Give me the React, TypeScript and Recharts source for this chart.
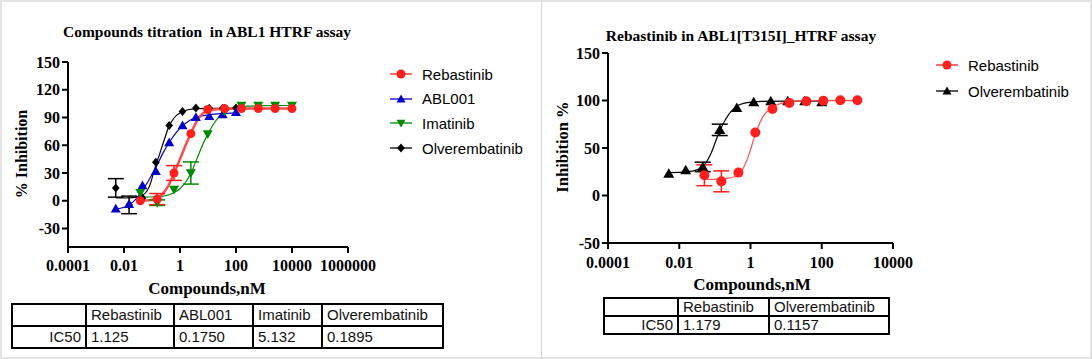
import { ComposedChart, Line, Scatter, XAxis, YAxis, ErrorBar } from "recharts";

const SERIF = '"Liberation Serif", "Times New Roman", serif';
const SANS = '"Liberation Sans", Arial, sans-serif';

// ---------- left panel: ABL1 HTRF ----------
const doses3x = [0.00508, 0.0152, 0.0457, 0.137, 0.412, 1.23, 3.7, 11.1, 33.3, 100];
const doses4x = [0.0381, 0.153, 0.61, 2.44, 9.77, 39.1, 156, 625, 2500, 10000];

const rebastinibA = [0, 1.8, 30, 72.5, 98.6, 99.6, 99.6, 99.6, 99.6, 99.6];
const rebastinibAErr = [0, 6, 8, 0, 0, 0, 0, 0, 0, 0];
const abl001A = [-8.6, -3.9, 16.4, 31.8, 62.9, 81.4, 90.4, 91.4, 93.2, 95.7];
const imatinibA = [8.6, -2.1, 12.1, 30, 72.1, 96.8, 102.9, 102.9, 102.9, 102.9];
const imatinibAErr = [0, 3, 0, 12, 0, 0, 0, 0, 0, 0];
const olverA = [13.9, -4.5, 2.9, 41.5, 81.4, 96.4, 100.4, 100, 100, 100.4];
const olverAErr = [10, 9.5, 0, 0, 0, 0, 0, 0, 0, 0];

// fitted curves
const rebFitX = [0.038, 0.1, 0.148, 0.251, 0.398, 0.617, 1, 1.585, 2.455, 3.98, 6.31, 10, 20, 100, 10000];
const rebFitY = [0.2, 0.8, 2, 8, 17, 30, 45, 60, 73, 86, 94, 97.5, 99, 99.6, 99.6];
const ablFitX = [0.0051, 0.01, 0.0152, 0.0251, 0.0457, 0.0794, 0.138, 0.251, 0.41, 0.794, 1.23, 2.0, 3.72, 11.2, 33.1, 100];
const ablFitY = [-9, -7, -4.5, 1, 11, 23, 36, 52, 63, 75, 81, 86, 90, 93, 94.3, 95];
const imaFitX = [0.038, 0.151, 0.398, 0.617, 1, 1.585, 2.455, 3.98, 6.31, 9.77, 15.85, 25.1, 38.9, 79.4, 251, 1000, 10000];
const imaFitY = [4, 4.3, 6.5, 9, 13, 20, 30, 45, 60, 72, 83, 91, 96, 100, 102.3, 102.8, 103];
const olvFitX = [0.0051, 0.0158, 0.0398, 0.0794, 0.126, 0.19, 0.282, 0.398, 0.631, 1.26, 3.16, 10, 100];
const olvFitY = [3.0, 3.2, 5, 15, 35, 51, 67, 80, 90, 96.5, 99.3, 99.8, 100];

const leftXTicks = [0.0001, 0.01, 1, 100, 10000, 1000000];
const leftXTickLabels = ["0.0001", "0.01", "1", "100", "10000", "1000000"];
const leftYTicks = [-30, 0, 30, 60, 90, 120, 150];

const leftNames = ["Rebastinib", "ABL001", "Imatinib", "Olverembatinib"];
const leftIC50 = ["1.125", "0.1750", "5.132", "0.1895"];

// ---------- right panel: ABL1[T315I] ----------
const dosesR = [0.0508, 0.152, 0.457, 1.37, 4.12, 12.3, 37.0, 111, 333, 1000];
const rebastinibB = [21.3, 14.9, 24.1, 66.3, 91.1, 97.5, 99.3, 99.8, 100.2, 100.2];
const rebastinibBErr = [11, 11, 0, 0, 0, 0, 0, 0, 0, 0];
const olverB = [23.0, 26.6, 30.1, 69.1, 92.2, 98.2, 99.3, 99.3, 99.3, 98.2];
const olverBErr = [0, 0, 5, 6, 0, 0, 0, 0, 0, 0];

const rebRFitX = [0.0513, 0.158, 0.398, 0.631, 1, 1.175, 1.585, 2.24, 3.98, 7.94, 20, 100, 1000];
const rebRFitY = [17, 17.5, 20, 29, 48, 57, 71, 83, 92.5, 97.5, 99.3, 99.8, 100];
const olvRFitX = [0.0051, 0.0158, 0.0316, 0.0501, 0.0794, 0.115, 0.158, 0.251, 0.398, 0.794, 2.0, 10, 100];
const olvRFitY = [24, 24.8, 27, 32, 45, 61, 73, 86, 93.5, 97.7, 99, 99.3, 99.3];

const rightXTicks = [0.0001, 0.01, 1, 100, 10000];
const rightXTickLabels = ["0.0001", "0.01", "1", "100", "10000"];
const rightYTicks = [-50, 0, 50, 100, 150];

const rightNames = ["Rebastinib", "Olverembatinib"];
const rightIC50 = ["1.179", "0.1157"];

const RED = "#ff1f1f";
const BLUE = "#0000c8";
const GREEN = "#008a00";
const BLACK = "#000000";

type Kind = "circle" | "tri" | "inv" | "diamond";

const pts = (xs: number[], ys: number[], errs?: number[]) =>
  xs.map((x, i) => ({ x, y: ys[i], err: errs ? errs[i] : 0 }));

function Marker({ kind, cx, cy, color, s }: { kind: Kind; cx: number; cy: number; color: string; s: number }) {
  if (kind === "circle") return <circle cx={cx} cy={cy} r={s} fill={color} />;
  if (kind === "tri")
    return <polygon points={`${cx},${cy - s} ${cx + s},${cy + s * 0.75} ${cx - s},${cy + s * 0.75}`} fill={color} />;
  if (kind === "inv")
    return <polygon points={`${cx},${cy + s} ${cx + s},${cy - s * 0.75} ${cx - s},${cy - s * 0.75}`} fill={color} />;
  return <polygon points={`${cx},${cy - s} ${cx + s * 0.85},${cy} ${cx},${cy + s} ${cx - s * 0.85},${cy}`} fill={color} />;
}

const tickStyle = { fill: "#000", fontSize: 16, fontWeight: 700, fontFamily: SERIF };

function fmt(ticks: number[], labels: string[]) {
  return (v: number) => {
    const i = ticks.findIndex((t) => Math.abs(Math.log10(t) - Math.log10(v)) < 1e-6);
    return i >= 0 ? labels[i] : "";
  };
}

interface SeriesDef {
  name: string;
  kind: Kind;
  color: string;
  size: number;
  fit: { x: number; y: number }[];
  data: { x: number; y: number; err: number }[];
  width: number;
  lineColor?: string;
}

function Panel({
  series, width, height, margin, xDomain, xTicks, xLabels, yTicks, yDomain, xTickMargin,
}: {
  series: SeriesDef[];
  width: number;
  height: number;
  margin: { top: number; right: number; bottom: number; left: number };
  xDomain: [number, number];
  xTicks: number[];
  xLabels: string[];
  yTicks: number[];
  yDomain: [number, number];
  xTickMargin: number;
}) {
  return (
    <ComposedChart width={width} height={height} margin={margin}>
      <XAxis
        type="number"
        dataKey="x"
        scale="log"
        domain={xDomain}
        ticks={xTicks}
        tickFormatter={fmt(xTicks, xLabels)}
        allowDataOverflow
        axisLine={{ stroke: "#000", strokeWidth: 2 }}
        tickLine={{ stroke: "#000", strokeWidth: 2 }}
        tickSize={6}
        tickMargin={xTickMargin}
        tick={tickStyle}
        height={32}
        interval={0}
      />
      <YAxis
        type="number"
        dataKey="y"
        domain={yDomain}
        ticks={yTicks}
        allowDataOverflow
        axisLine={{ stroke: "#000", strokeWidth: 2 }}
        tickLine={{ stroke: "#000", strokeWidth: 2 }}
        tickSize={6}
        tick={tickStyle}
        width={40}
        interval={0}
      />
      {series.map((s) => (
        <Line
          key={s.name + "-fit"}
          data={s.fit}
          dataKey="y"
          type="monotone"
          dot={false}
          activeDot={false}
          stroke={s.lineColor ?? s.color}
          strokeWidth={s.width}
          isAnimationActive={false}
        />
      ))}
      {series.map((s) => (
        <Scatter
          key={s.name}
          data={s.data}
          dataKey="y"
          fill={s.color}
          isAnimationActive={false}
          shape={(p: any) => <Marker kind={s.kind} cx={p.cx} cy={p.cy} color={s.color} s={s.size} />}
        >
          <ErrorBar dataKey="err" direction="y" width={8} stroke={s.color} strokeWidth={1.5} />
        </Scatter>
      ))}
    </ComposedChart>
  );
}

function LegendBox({ items, left, top, gap }: { items: SeriesDef[]; left: number; top: number; gap: number }) {
  return (
    <div style={{ position: "absolute", left, top }}>
      {items.map((s, i) => (
        <div key={s.name} style={{ position: "absolute", left: 0, top: i * gap, height: 20, display: "flex", alignItems: "center", whiteSpace: "nowrap" }}>
          <svg width={22} height={14}>
            <line x1={0} y1={7} x2={22} y2={7} stroke={s.color} strokeWidth={1.3} />
            <Marker kind={s.kind} cx={11} cy={7} color={s.color} s={4.5} />
          </svg>
          <span style={{ marginLeft: 10, fontFamily: SANS, fontSize: 15, color: "#000" }}>{s.name}</span>
        </div>
      ))}
    </div>
  );
}

function IcTable({ names, values, left, top, colWidths, rowH }: { names: string[]; values: string[]; left: number; top: number; colWidths: number[]; rowH: number }) {
  const cell = { border: "2px solid #000", padding: "0 4px", height: rowH, lineHeight: `${rowH - 2}px`, fontFamily: SANS, fontSize: 15, color: "#111", whiteSpace: "nowrap" as const };
  return (
    <table style={{ position: "absolute", left, top, borderCollapse: "collapse", tableLayout: "fixed" }}>
      <colgroup>
        {colWidths.map((w, i) => (
          <col key={i} style={{ width: w }} />
        ))}
      </colgroup>
      <tbody>
        <tr>
          <td style={cell}></td>
          {names.map((n) => (
            <td key={n} style={cell}>{n}</td>
          ))}
        </tr>
        <tr>
          <td style={{ ...cell, textAlign: "right" }}>IC50</td>
          {values.map((v, i) => (
            <td key={i} style={cell}>{v}</td>
          ))}
        </tr>
      </tbody>
    </table>
  );
}

const titleStyle = { position: "absolute" as const, transform: "translate(-50%,-50%)", fontFamily: SERIF, fontWeight: 700, fontSize: 15.5, whiteSpace: "pre" as const, color: "#000" };
const axisLabelStyle = { position: "absolute" as const, fontFamily: SERIF, fontWeight: 700, fontSize: 17, whiteSpace: "nowrap" as const, color: "#000" };

export default function App() {
  const leftSeries: SeriesDef[] = [
    { name: leftNames[3], kind: "diamond", color: BLACK, size: 4.5, width: 1.2, fit: pts(olvFitX, olvFitY), data: pts(doses3x, olverA, olverAErr) },
    { name: leftNames[1], kind: "tri", color: BLUE, size: 5, width: 1.2, fit: pts(ablFitX, ablFitY), data: pts(doses3x, abl001A) },
    { name: leftNames[2], kind: "inv", color: GREEN, size: 5, width: 1.2, fit: pts(imaFitX, imaFitY), data: pts(doses4x, imatinibA, imatinibAErr) },
    { name: leftNames[0], kind: "circle", color: RED, size: 4.5, width: 2.5, lineColor: "#ff4a4a", fit: pts(rebFitX, rebFitY), data: pts(doses4x, rebastinibA, rebastinibAErr) },
  ];
  const leftLegend = [leftSeries[3], leftSeries[1], leftSeries[2], leftSeries[0]];

  const rightSeries: SeriesDef[] = [
    { name: rightNames[1], kind: "tri", color: BLACK, size: 5.5, width: 1.2, fit: pts(olvRFitX, olvRFitY), data: pts(doses3x, olverB, olverBErr) },
    { name: rightNames[0], kind: "circle", color: RED, size: 5, width: 1.3, lineColor: "#ff5a5a", fit: pts(rebRFitX, rebRFitY), data: pts(dosesR, rebastinibB, rebastinibBErr) },
  ];
  const rightLegend = [rightSeries[1], rightSeries[0]];

  return (
    <div style={{ position: "absolute", left: 0, top: 0, width: 1092, height: 359, background: "#fff", overflow: "hidden" }}>
      <div style={{ position: "absolute", left: 0, top: 0, width: 1092, height: 359, boxSizing: "border-box", border: "2px solid #e4e4e4" }} />
      <div style={{ position: "absolute", left: 541, top: 0, width: 1, height: 359, background: "#d6d6d6" }} />

      {/* left panel */}
      <div style={{ position: "absolute", left: 0, top: 0 }}>
        <Panel
          series={leftSeries}
          width={390}
          height={279}
          margin={{ top: 62, right: 42, bottom: 0, left: 28 }}
          xDomain={[0.0001, 1000000]}
          xTicks={leftXTicks}
          xLabels={leftXTickLabels}
          yTicks={leftYTicks}
          yDomain={[-50, 150]}
          xTickMargin={7}
        />
      </div>
      <div style={{ ...titleStyle, left: 207, top: 32 }}>{"Compounds titration  in ABL1 HTRF assay"}</div>
      <div style={{ ...axisLabelStyle, fontSize: 16, left: 22, top: 154, transform: "translate(-50%,-50%) rotate(-90deg)" }}>% Inhibition</div>
      <div style={{ ...axisLabelStyle, left: 207, top: 289, transform: "translate(-50%,-50%)" }}>Compounds,nM</div>
      <LegendBox items={leftLegend} left={390} top={64} gap={24.7} />
      <IcTable names={leftNames} values={leftIC50} left={11} top={303} colWidths={[74, 88, 79, 69, 121]} rowH={20} />

      {/* right panel */}
      <div style={{ position: "absolute", left: 540, top: 0 }}>
        <Panel
          series={rightSeries}
          width={373}
          height={275}
          margin={{ top: 53, right: 20, bottom: 0, left: 28 }}
          xDomain={[0.0001, 10000]}
          xTicks={rightXTicks}
          xLabels={rightXTickLabels}
          yTicks={rightYTicks}
          yDomain={[-50, 150]}
          xTickMargin={8}
        />
      </div>
      <div style={{ ...titleStyle, left: 741, top: 36 }}>Rebastinib in ABL1[T315I]_HTRF assay</div>
      <div style={{ ...axisLabelStyle, fontSize: 16.5, left: 563, top: 147, transform: "translate(-50%,-50%) rotate(-90deg)" }}>Inhibition %</div>
      <div style={{ ...axisLabelStyle, left: 752, top: 285, transform: "translate(-50%,-50%)" }}>Compounds,nM</div>
      <LegendBox items={rightLegend} left={936} top={55} gap={26} />
      <IcTable names={rightNames} values={rightIC50} left={603} top={297} colWidths={[74, 91, 120]} rowH={16} />
    </div>
  );
}
